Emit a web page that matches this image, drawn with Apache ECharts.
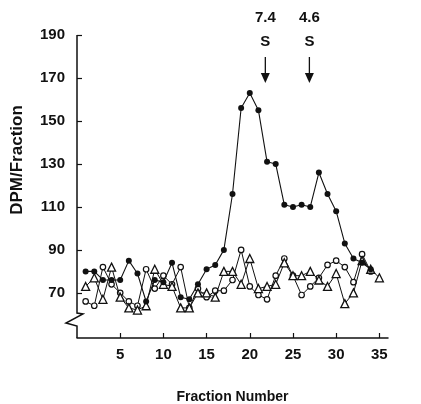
<!DOCTYPE html>
<html><head><meta charset="utf-8">
<script src="https://cdn.jsdelivr.net/npm/echarts@6/dist/echarts.min.js"></script>
<style>html,body{margin:0;padding:0;background:#fff}#c{width:421px;height:404px}</style>
</head><body><div id="c"></div>
<script>
const fractions = [1,2,3,4,5,6,7,8,9,10,11,12,13,14,15,16,17,18,19,20,21,22,23,24,25,26,27,28,29,30,31,32,33,34,35];
const filledValues = [80,80,76,76,76,85,79,66,76,75,84,68,67,74,81,83,90,116,156,163,155,131,130,111,110,111,110,126,116,108,93,86,84,81];
const openValues = [66,64,82,74,70,66,64,81,72,78,74,82,63,72,68,71,71,76,90,73,69,67,78,86,78,69,73,77,83,85,82,75,88,80];
const triangleValues = [73,77,67,82,68,63,62,64,81,74,73,63,63,70,70,68,80,80,74,86,72,73,74,84,78,78,80,76,73,79,65,70,85,81,77];
const yTickValues = [70,90,110,130,150,170,190];
const xTickValues = [5,10,15,20,25,30,35];
const sedimentationMarkers = [{x:21.8, label:'7.4'}, {x:26.9, label:'4.6'}];

const FONT = 'Liberation Sans, Arial, Helvetica, sans-serif';
const INK = '#111';
const zip = vals => vals.map((v,i) => [fractions[i], v]);

const chart = echarts.init(document.getElementById('c'), null, {renderer:'canvas'});
const option = {
  animation:false,
  backgroundColor:'#fff',
  grid:{left:77, right:33, top:35, bottom:66, containLabel:false, outerBoundsMode:'none'},
  xAxis:{
    type:'value', min:0, max:36,
    name:'Fraction Number', nameLocation:'middle', nameGap:52,
    nameTextStyle:{fontFamily:FONT, fontWeight:'bold', fontSize:14, color:INK},
    axisLine:{show:true, lineStyle:{color:INK, width:1.5}},
    axisTick:{show:true, inside:true, length:5, customValues:xTickValues, lineStyle:{color:INK, width:1.2}},
    axisLabel:{customValues:xTickValues, margin:9, fontFamily:FONT, fontWeight:'bold', fontSize:15, color:INK},
    splitLine:{show:false}
  },
  yAxis:{
    type:'value', min:49, max:190,
    axisLine:{show:false},
    axisTick:{show:true, inside:true, length:5, customValues:yTickValues, lineStyle:{color:INK, width:1.2}},
    axisLabel:{customValues:yTickValues, margin:12, fontFamily:FONT, fontWeight:'bold', fontSize:15, color:INK},
    splitLine:{show:false}
  },
  series:[
    {type:'line', name:'open', data:zip(openValues), symbol:'circle', symbolSize:5.5,
     itemStyle:{color:'#fff', borderColor:INK, borderWidth:1.2}, lineStyle:{color:INK, width:1}, z:2},
    {type:'line', name:'triangle', data:zip(triangleValues), symbol:'triangle', symbolSize:8,
     itemStyle:{color:'#fff', borderColor:INK, borderWidth:1.3}, lineStyle:{color:INK, width:1}, z:3},
    {type:'line', name:'filled', data:zip(filledValues), symbol:'circle', symbolSize:6,
     itemStyle:{color:INK, borderColor:INK, borderWidth:0}, lineStyle:{color:INK, width:1.1}, z:4}
  ]
};
chart.setOption(option);

const x0 = chart.convertToPixel({xAxisIndex:0}, 0);
const yTop = chart.convertToPixel({yAxisIndex:0}, 190);
const yBot = chart.convertToPixel({yAxisIndex:0}, 49);
const graphics = [
  {type:'polyline', shape:{points:[[x0,yTop],[x0,313],[83,314],[66,323],[x0,326],[x0,yBot]]},
   style:{stroke:INK, lineWidth:1.5, fill:null}, silent:true},
  {type:'text', x:17, y:160, rotation:Math.PI/2,
   style:{text:'DPM/Fraction', fontFamily:FONT, fontWeight:'bold', fontSize:17, fill:INK, align:'center', verticalAlign:'middle'}}
];
sedimentationMarkers.forEach(m => {
  const px = chart.convertToPixel({xAxisIndex:0}, m.x);
  graphics.push({type:'text', x:px, y:18, style:{text:m.label, fontFamily:FONT, fontWeight:'bold', fontSize:15, fill:INK, align:'center', verticalAlign:'middle'}});
  graphics.push({type:'text', x:px, y:42, style:{text:'S', fontFamily:FONT, fontWeight:'bold', fontSize:15, fill:INK, align:'center', verticalAlign:'middle'}});
  graphics.push({type:'line', shape:{x1:px, y1:57, x2:px, y2:76}, style:{stroke:INK, lineWidth:1.3}});
  graphics.push({type:'polygon', shape:{points:[[px-4.5,73],[px+4.5,73],[px,83]]}, style:{fill:INK}});
});
chart.setOption({graphic:graphics});
</script>
</body></html>
